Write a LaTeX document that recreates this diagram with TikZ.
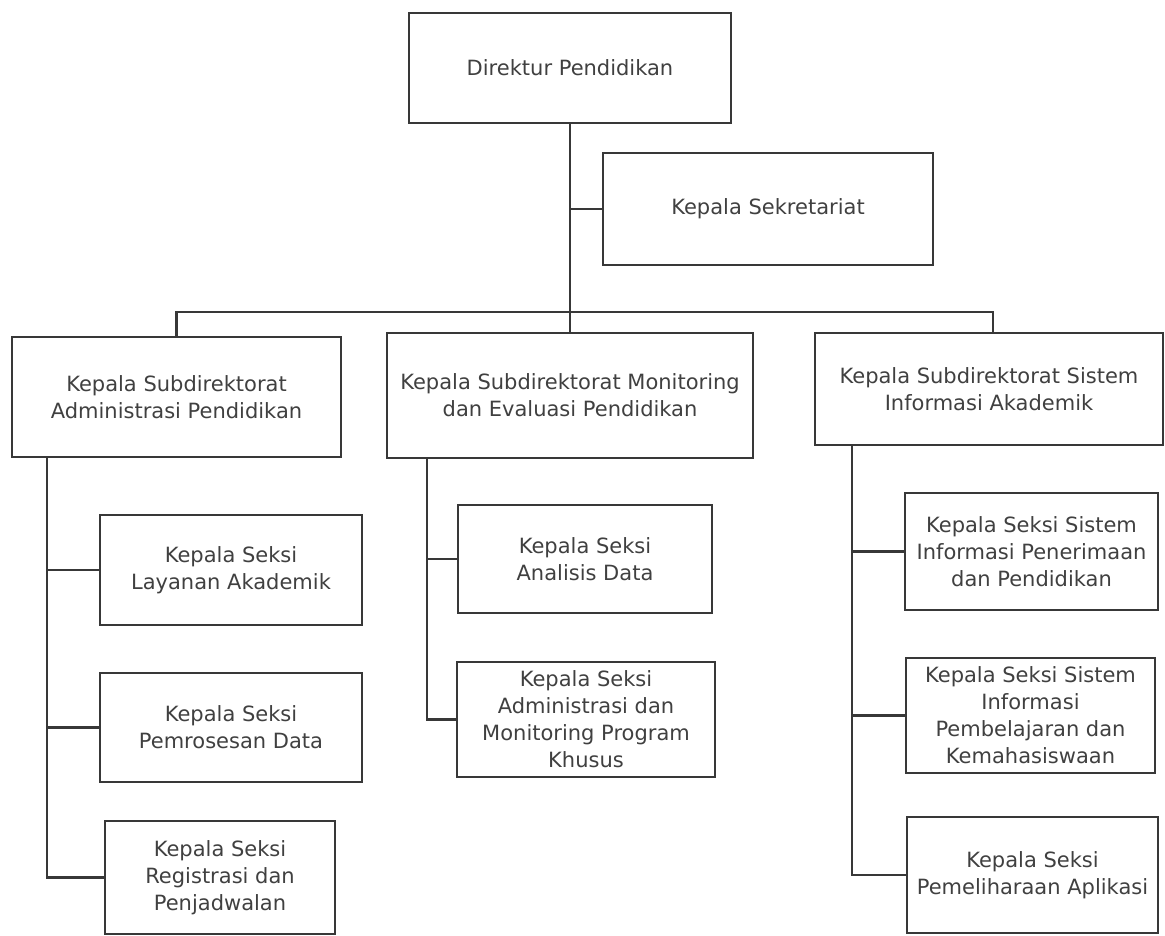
\documentclass[tikz,border=0pt]{standalone}
\usepackage{fontspec}
\setmainfont{DejaVu Sans}
\definecolor{ln}{HTML}{383838}
\definecolor{tx}{HTML}{404040}
\begin{document}
\begin{tikzpicture}[x=1pt,y=-1pt,
  box/.style={draw=ln,line width=2.4pt,inner sep=0pt,align=center,text=tx,
    font=\fontsize{21}{27}\selectfont},
  link/.style={draw=ln,line width=2.2pt}]
\useasboundingbox (0,0) rectangle (1165,936);
% top level
\node[box,minimum width=322pt,minimum height=110pt] (dir) at (570,68) {Direktur Pendidikan};
\node[box,minimum width=330pt,minimum height=112pt] (sek) at (768,209) {Kepala Sekretariat};
% subdirectorates
\node[box,minimum width=329pt,minimum height=120pt] (subA) at (176.5,397) {Kepala Subdirektorat\\Administrasi Pendidikan};
\node[box,minimum width=366pt,minimum height=125pt] (subM) at (570,395.5) {Kepala Subdirektorat Monitoring\\dan Evaluasi Pendidikan};
\node[box,minimum width=348pt,minimum height=112pt] (subS) at (989,389) {Kepala Subdirektorat Sistem\\Informasi Akademik};
% left sections
\node[box,minimum width=262pt,minimum height=110pt] (lay) at (231,570) {Kepala Seksi\\Layanan Akademik};
\node[box,minimum width=262pt,minimum height=109pt] (pem) at (231,727.5) {Kepala Seksi\\Pemrosesan Data};
\node[box,minimum width=230pt,minimum height=113pt] (reg) at (220,877.5) {Kepala Seksi\\Registrasi dan\\Penjadwalan};
% middle sections
\node[box,minimum width=254pt,minimum height=108pt] (ana) at (585,559) {Kepala Seksi\\Analisis Data};
\node[box,minimum width=258pt,minimum height=115pt] (adm) at (586,719.5) {Kepala Seksi\\Administrasi dan\\Monitoring Program\\Khusus};
% right sections
\node[box,minimum width=253pt,minimum height=117pt] (pen) at (1031.5,551.5) {Kepala Seksi Sistem\\Informasi Penerimaan\\dan Pendidikan};
\node[box,minimum width=249pt,minimum height=115pt] (pbl) at (1030.5,715.5) {Kepala Seksi Sistem\\Informasi\\Pembelajaran dan\\Kemahasiswaan};
\node[box,minimum width=251pt,minimum height=116pt] (pml) at (1032.5,875) {Kepala Seksi\\Pemeliharaan Aplikasi};
% connectors
\coordinate (barY) at (0,312);
\draw[link] (dir.south) -- (subM.north);
\draw[link] (sek.west) -- (sek.west -| dir.south);
\draw[link] (subA.north) -- (subA.north |- barY) -| ([xshift=4pt]subS.north);
% left spine
\coordinate (sA) at (47,457);
\draw[link] (sA) |- (reg.west);
\draw[link] (lay.west) -- (lay.west -| sA);
\draw[link] (pem.west) -- (pem.west -| sA);
% middle spine
\coordinate (sM) at (427,458);
\draw[link] (sM) |- (adm.west);
\draw[link] (ana.west) -- (ana.west -| sM);
% right spine
\coordinate (sS) at (852,445);
\draw[link] (sS) |- (pml.west);
\draw[link] (pen.west) -- (pen.west -| sS);
\draw[link] (pbl.west) -- (pbl.west -| sS);
\end{tikzpicture}
\end{document}
